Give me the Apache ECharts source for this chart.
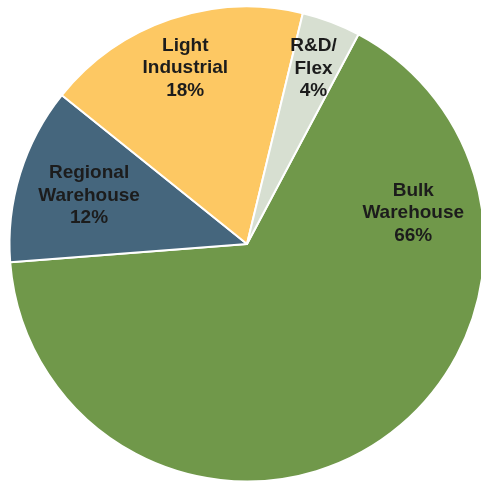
<!DOCTYPE html>
<html>
<head>
<meta charset="utf-8">
<script src="https://cdn.jsdelivr.net/npm/echarts@6/dist/echarts.min.js"></script>
<style>
  html, body { margin: 0; padding: 0; background: #ffffff; }
  #chart { width: 481px; height: 484px; }
</style>
</head>
<body>
<div id="chart"></div>
<script>
// Industrial space mix by property type (share of total, %)
const categories = ['Bulk\nWarehouse', 'Regional\nWarehouse', 'Light\nIndustrial', 'R&D/\nFlex'];
const shares = [66, 12, 18, 4];
const sliceColors = ['#70984a', '#45667d', '#fdc863', '#d7dfd1'];
// Label anchor per slice: [dx, dy] as fractions of the radius from the centre
const labelSpots = [[0.70, -0.13], [-0.665, -0.205], [-0.26, -0.742], [0.28, -0.738]];

const CX = 247, CY = 244, R = 237.5;

const chart = echarts.init(document.getElementById('chart'), null, { renderer: 'canvas' });
chart.setOption({
  animation: false,
  backgroundColor: '#ffffff',
  series: [{
    type: 'pie',
    center: [CX, CY],
    radius: [0, R],
    startAngle: 62,
    clockwise: true,
    itemStyle: { borderColor: '#ffffff', borderWidth: 2 },
    label: {
      show: true,
      position: 'inside',
      formatter: p => p.name + '\n' + p.value + '%',
      fontFamily: 'Liberation Sans, Arial, sans-serif',
      fontWeight: 'bold',
      fontSize: 19,
      lineHeight: 22.5,
      color: '#1c1c1c',
      align: 'center'
    },
    labelLine: { show: false },
    labelLayout: function (params) {
      const s = labelSpots[params.dataIndex];
      return {
        x: CX + s[0] * R,
        y: CY + s[1] * R,
        align: 'center',
        verticalAlign: 'middle'
      };
    },
    emphasis: { disabled: true },
    data: categories.map((c, i) => ({
      name: c,
      value: shares[i],
      itemStyle: { color: sliceColors[i] }
    }))
  }]
});
</script>
</body>
</html>
